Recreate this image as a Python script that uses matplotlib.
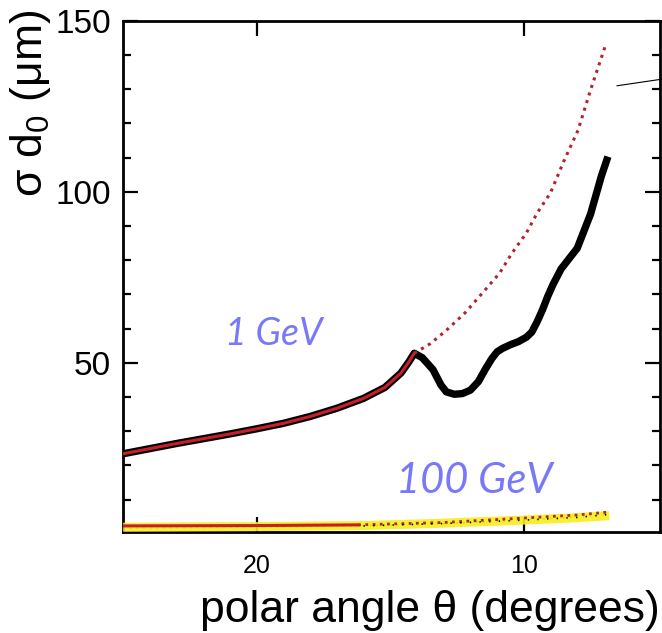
import numpy as np
import matplotlib.pyplot as plt
from matplotlib.ticker import MultipleLocator, FixedLocator

plt.rcParams['font.family'] = ['Liberation Sans', 'DejaVu Sans']
plt.rcParams['mathtext.fontset'] = 'custom'
plt.rcParams['mathtext.rm'] = 'Liberation Sans'
plt.rcParams['mathtext.it'] = 'Liberation Sans:italic'

# 1 GeV, measured (thick black)
theta_1gev = [25, 24, 23, 22, 21, 20, 19, 18, 17, 16, 15.2, 14.6, 14.3, 14.1,
              13.8, 13.4, 13.1, 12.9, 12.6, 12.3, 12.0, 11.7, 11.45, 11.2, 11.0,
              10.8, 10.5, 10.2, 9.9, 9.7, 9.5, 9.3, 9.1, 8.9, 8.6, 8.3, 8.0,
              7.8, 7.5, 7.3, 7.1, 6.85]
sigma_1gev = [23.4, 24.9, 26.4, 27.8, 29.2, 30.7, 32.3, 34.3, 36.7, 39.6, 42.8, 47.0, 50.3, 52.8,
              51.5, 48.0, 43.5, 41.5, 40.8, 41.0, 42.0, 44.5, 48.0, 51.2, 53.2,
              54.2, 55.3, 56.2, 57.5, 59.0, 62.0, 65.5, 69.5, 73.0, 77.5, 80.5, 83.5,
              87.5, 93.5, 99.0, 104.5, 110.3]

# 1 GeV, reference (red)
theta_1gev_ref = [25, 24, 23, 22, 21, 20, 19, 18, 17, 16, 15.2, 14.6, 14.3, 14.1,
                  13.5, 12.9, 12.2, 11.45, 10.9, 10.45, 9.9, 9.5, 9.0, 8.5, 7.97, 7.5, 6.96]
sigma_1gev_ref = [23.4, 24.9, 26.4, 27.8, 29.2, 30.7, 32.3, 34.3, 36.7, 39.6, 42.8, 47.0, 50.3, 52.8,
                  55.6, 59.5, 64.6, 71.3, 76.3, 82, 88, 93.8, 99.7, 109, 118, 129.8, 142.4]
n_overlap = 14  # points shared with the black curve

# 100 GeV curves
theta_100_band = [25, 20, 16, 13, 10, 8, 6.8]
sigma_100_band = [1.9, 2.1, 2.4, 3.1, 4.0, 4.7, 5.3]
theta_100_solid = [25, 20, 16.2]
sigma_100_solid = [2.3, 2.4, 2.6]
theta_100_dot = [16.2, 13, 10, 8, 6.9]
sigma_100_dot = [2.6, 3.3, 4.6, 5.5, 6.3]
theta_100_blk = [25, 16, 13, 10, 8, 6.9]
sigma_100_blk = [1.6, 2.3, 3.0, 4.0, 4.8, 5.6]

red = '#c81e2a'
label_blue = '#7878f8'

fig = plt.figure(figsize=(6.62, 6.33), dpi=100)
ax = fig.add_axes([0.186, 0.160, 0.811, 0.807])

ax.plot(theta_1gev, sigma_1gev, color='black', lw=5.3, solid_capstyle='butt',
        solid_joinstyle='round', zorder=2)
ax.plot(theta_1gev_ref[:n_overlap], sigma_1gev_ref[:n_overlap], color=red, lw=2.2, zorder=3)
ax.plot(theta_1gev_ref[n_overlap - 1:], sigma_1gev_ref[n_overlap - 1:], color='#b0242e',
        lw=2.2, ls=(0, (1, 1.6)), zorder=3)

ax.plot(theta_100_blk, sigma_100_blk, color='black', lw=1.2, ls=(0, (1, 3)), zorder=2)
ax.plot(theta_100_band, sigma_100_band, color='#f6ee1c', lw=6.5, alpha=0.9,
        solid_capstyle='butt', zorder=3, clip_on=False)
ax.plot(theta_100_solid, sigma_100_solid, color=red, lw=2.2, zorder=4)
ax.plot(theta_100_dot, sigma_100_dot, color='#b02a30', lw=2, ls=(0, (1, 1.6)), zorder=4)
ax.plot(theta_100_blk[1:], sigma_100_blk[1:], color='black', lw=1.2, ls=(0, (0.8, 5)), zorder=5)

ax.text(21.17, 55.3, '1 GeV', color=label_blue, fontsize=27, style='italic',
        family=['Lato', 'DejaVu Sans'], ha='left', va='baseline')
ax.text(14.77, 12.0, '100 GeV', color=label_blue, fontsize=30, style='italic',
        family=['Lato', 'DejaVu Sans'], ha='left', va='baseline')

# leader line at top right
ax.plot([0.92, 1.004], [0.873, 0.886], color='black', lw=0.8,
        transform=ax.transAxes, clip_on=False)

ax.set_xlim(25, 4.9)
ax.set_ylim(0.6, 150)
ax.xaxis.set_major_locator(FixedLocator([20, 10]))
ax.yaxis.set_major_locator(FixedLocator([50, 100, 150]))
ax.yaxis.set_minor_locator(MultipleLocator(10))

ax.tick_params(which='both', direction='in', top=True, right=True, width=1.6)
ax.tick_params(which='major', length=11)
ax.tick_params(which='minor', length=6)
ax.tick_params(axis='x', labelsize=18, pad=16)
ax.tick_params(axis='y', labelsize=24, pad=9)
for s in ax.spines.values():
    s.set_linewidth(2)

ax.set_xlabel('polar angle θ (degrees)', fontsize=32)
ax.set_ylabel('σ d$_0$ (μm)', fontsize=32)
ax.xaxis.set_label_coords(0.572, -0.115)
ax.yaxis.set_label_coords(-0.13, 0.838)

fig.savefig('out.png', dpi=100)
